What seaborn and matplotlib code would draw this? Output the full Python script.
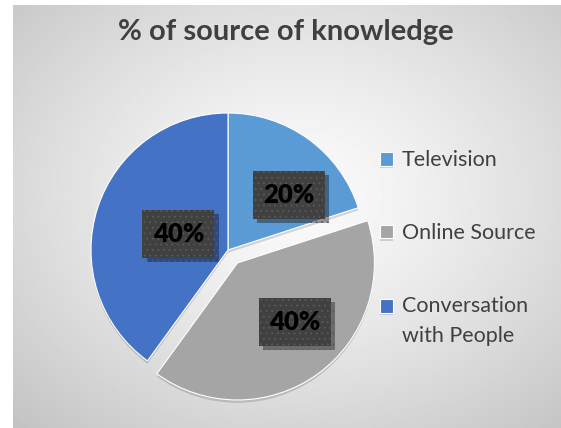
import numpy as np
import matplotlib
matplotlib.use("Agg")
import matplotlib.pyplot as plt
import matplotlib.patheffects as pe
import matplotlib.transforms as mtransforms
from matplotlib.legend_handler import HandlerPatch
import seaborn as sns

# Share of each source of knowledge (percent)
sources = ["Television", "Online Source", "Conversation\nwith People"]
shares = [20, 40, 40]
colors = ["#5B9BD5", "#A5A5A5", "#4472C4"]
explode = [0, 0.117, 0]
title = "% of source of knowledge"

sns.set_theme(style="white")
plt.rcParams["font.family"] = ["Lato", "DejaVu Sans"]
plt.rcParams["hatch.linewidth"] = 0.6

W, H = 561, 428
fig = plt.figure(figsize=(W / 100, H / 100), dpi=100)
fig.patch.set_facecolor("white")

# Soft radial gradient behind the chart
bg = fig.add_axes([13 / W, 0, 1 - 13 / W, 1 - 5 / H])
bg.set_axis_off()
yy, xx = np.mgrid[0:1:300j, 0:1:400j]
d = np.sqrt(((xx - 0.52) / 0.75) ** 2 + ((yy - 0.55) / 0.75) ** 2)
shade = np.clip(0.985 - 0.22 * d ** 1.3, 0.76, 1)
bg.imshow(shade, cmap="gray", vmin=0, vmax=1, aspect="auto",
          extent=[0, 1, 0, 1], origin="lower")
bg.set_xlim(0, 1)
bg.set_ylim(0, 1)

# Pie axes: radius 1 maps to ~137 px, centre near (228, 250) px
R = 137
half = 1.2 * R
ax = fig.add_axes([(228 - half) / W, (H - 250 - half) / H, 2 * half / W, 2 * half / H])
ax.set_axis_off()

wedges, _ = ax.pie(shares, colors=colors, explode=explode, startangle=90,
                   counterclock=False,
                   wedgeprops=dict(edgecolor="white", linewidth=0.8))
ax.set_xlim(-1.2, 1.2)
ax.set_ylim(-1.2, 1.2)
ax.set_aspect("equal")
for w in wedges:
    w.set_path_effects([pe.SimplePatchShadow(offset=(0, -2), alpha=0.15,
                                             shadow_rgbFace="black"), pe.Normal()])

# Data labels in dark dotted boxes (box size given in inches)
box_w, box_h = 0.72, 0.48
label_dist = [0.6, 0.6, 0.38]
label_turn = [-12, 8, 0]
for w, s, r, t in zip(wedges, shares, label_dist, label_turn):
    ang = np.deg2rad((w.theta1 + w.theta2) / 2 + t)
    cx, cy = w.center
    lx, ly = cx + r * np.cos(ang), cy + r * np.sin(ang)
    trans = fig.dpi_scale_trans + mtransforms.ScaledTranslation(lx, ly, ax.transData)
    box = plt.Rectangle((-box_w / 2, -box_h / 2), box_w, box_h, transform=trans,
                        facecolor="#404040", edgecolor="#5A5A5A", linewidth=0,
                        hatch="...", zorder=3)
    box.set_path_effects([pe.SimplePatchShadow(offset=(3, -3), alpha=0.35,
                                               shadow_rgbFace="black"), pe.Normal()])
    ax.add_patch(box)
    ax.text(lx, ly, f"{s}%", ha="center", va="center", fontsize=18.5,
            fontweight="heavy", color="black", zorder=4)

fig.text(286 / W, 1 - 32 / H, title, ha="center", va="center",
         fontsize=21, fontweight="bold", color="#404040")

# Legend panel on the right
panel = plt.Rectangle((368 / W, 1 - 360 / H), (547 - 368) / W, (360 - 137) / H,
                      transform=fig.transFigure, facecolor="#F8F8F8",
                      alpha=0.75, edgecolor="none", zorder=0)
fig.add_artist(panel)


def square_on_first_line(legend, orig_handle, xdescent, ydescent, width, height, fontsize):
    # Two-line labels keep their marker beside the first line
    n_lines = legend_lines.get(id(orig_handle), 1)
    shift = (n_lines - 1) * fontsize * 0.72
    return plt.Rectangle((-xdescent, -ydescent + shift), width, height)


legend_lines = {id(w): s.count("\n") + 1 for w, s in zip(wedges, sources)}
leg = fig.legend(wedges, sources, loc="upper left",
                 bbox_to_anchor=(361 / W, 1 - 131 / H), frameon=False,
                 fontsize=15.5, labelcolor="#404040", handlelength=0.6,
                 handleheight=0.6, handletextpad=0.4, labelspacing=2.45,
                 handler_map={w: HandlerPatch(patch_func=square_on_first_line)
                              for w in wedges})
for t in leg.get_texts():
    t.set_linespacing(1.62)

fig.savefig("out.png", dpi=100)
